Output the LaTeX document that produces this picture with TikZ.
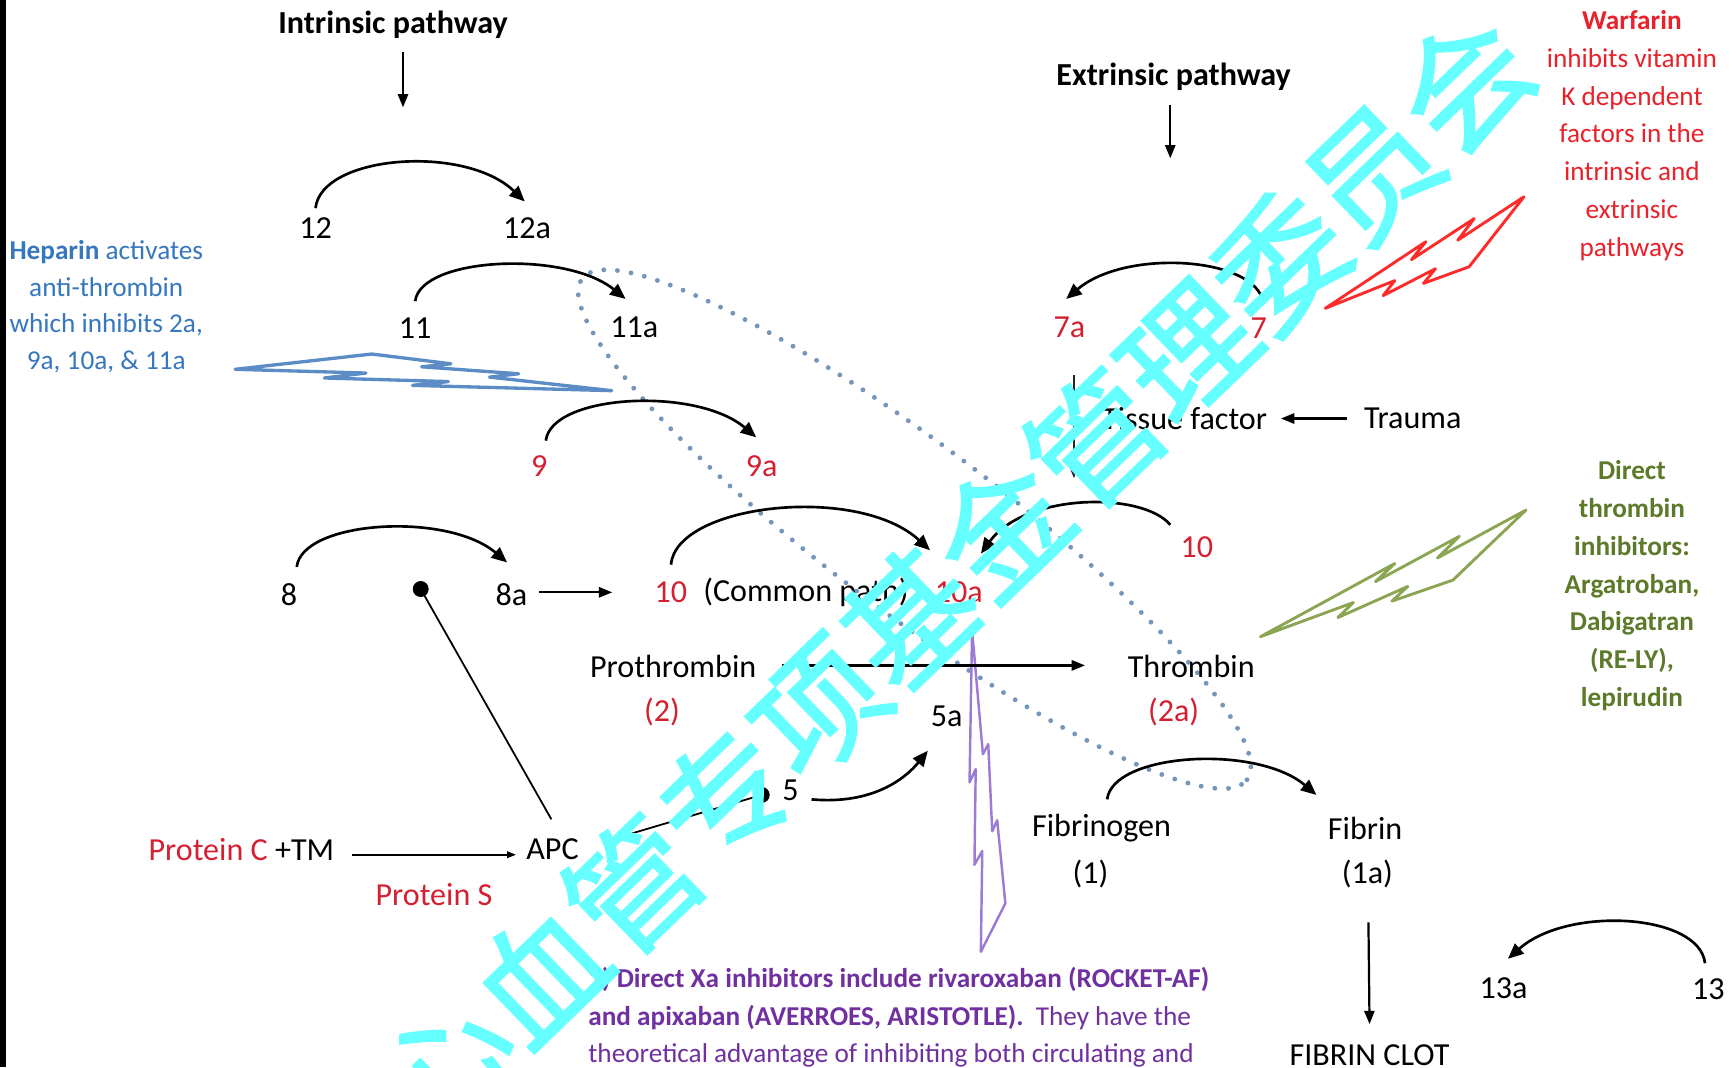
\documentclass[tikz,border=0pt]{standalone}
\usepackage{fontspec}
\setmainfont{Carlito}
\newfontfamily\cjkfont[FakeBold=1.6]{Noto Sans CJK SC}
\usetikzlibrary{arrows.meta}
\definecolor{numred}{HTML}{D42030}
\definecolor{warred}{HTML}{E8212B}
\definecolor{hepblue}{HTML}{3677BD}
\definecolor{thrgreen}{HTML}{5C7A2A}
\definecolor{xapurple}{HTML}{7030A0}
\definecolor{dotcol}{HTML}{7396BA}
\definecolor{boltblue}{HTML}{5B8CC6}
\definecolor{boltred}{HTML}{FF2B2B}
\definecolor{boltgreen}{HTML}{8BA552}
\definecolor{boltpurple}{HTML}{9B7BD6}
\definecolor{wmcyan}{HTML}{66FFFF}
\newcommand{\bolt}[4]{%
  \begin{scope}[shift={#2}, x={#3}, y={#4}]
    \draw[#1] (0.3922,0) -- (0.5954,0.2815) -- (0.5116,0.3147) -- (0.7675,0.5559)
      -- (0.6837,0.5962) -- (1,1) -- (0.4635,0.6905) -- (0.5658,0.6476)
      -- (0.2325,0.4493) -- (0.3519,0.3881) -- (0,0.1801) -- cycle;
  \end{scope}}
\begin{document}
\begin{tikzpicture}[x=0.5pt,y=-0.5pt,
  txt/.style={inner sep=1pt, font=\fontsize{14.5pt}{17.1pt}\selectfont, align=center},
  rtxt/.style={txt, text=numred},
  side/.style={inner sep=1pt, font=\fontsize{12.3pt}{17.1pt}\selectfont, align=center},
  arcarrow/.style={line width=1.2pt, -{Triangle[length=7pt,width=6pt]}},
  arr/.style={line width=1pt, -{Triangle[length=6pt,width=4.6pt]}},
  thinarr/.style={line width=0.7pt, -{Triangle[length=4pt,width=3pt]}},
  thinline/.style={line width=0.8pt},
  dotline/.style={draw=dotcol, line width=2.2pt, line cap=round, dash pattern=on 0pt off 6.2pt},
  boltstyle/.style={line width=#1, line join=round}]
\useasboundingbox (0,0) rectangle (1568,964);
\fill[white] (0,0) rectangle (1568,964);
\fill[black] (0,0) rectangle (5,964);

% dotted ellipse
\draw[dotline, rotate around={-37:(826,478)}] (826,478) ellipse [x radius=188pt, y radius=38pt];

% bolts
\bolt{boltstyle=1.5pt, draw=boltblue}{(208.75,325.9)}{(162.05pt,7.82pt)}{(9.875pt,-21.3pt)}
\bolt{boltstyle=1.3pt, draw=boltred}{(1384.0,186.2)}{(-72.7pt,-69.75pt)}{(-20.8pt,23.6pt)}
\bolt{boltstyle=1.3pt, draw=boltgreen}{(1388.4,467.3)}{(-96.95pt,-72.2pt)}{(-28.05pt,18.3pt)}
\bolt{boltstyle=1.1pt, draw=boltpurple}{(895,884.9)}{(16.65pt,87.9pt)}{(-25.15pt,70.05pt)}

% headings
\node[txt] (ip) at (355,22) {\bfseries Intrinsic pathway};
\node[txt] (ep) at (1060,69) {\bfseries Extrinsic pathway};

% factors
\node[txt] (f12) at (285,206) {12};
\node[txt] (f12a) at (476,206) {12a};
\node[txt] (f11) at (375,296) {11};
\node[txt] (f11a) at (573,296) {11a};
\node[rtxt] (f9) at (487,421) {9};
\node[rtxt] (f9a) at (688,421) {9a};
\node[txt] (f8) at (261,537) {8};
\node[txt] (f8a) at (462,537) {8a};
\node[rtxt] (f10) at (606,535) {10};
\node[txt] (cp) at (728,535) {(Common path)};
\node[rtxt] (f10a) at (866,535) {10a};
\node[txt] (pro) at (608,602) {Prothrombin};
\node[rtxt] (pro2) at (598,643) {(2)};
\node[txt] (thr) at (1076,602) {Thrombin};
\node[rtxt] (thr2) at (1060,643) {(2a)};
\node[txt] (f5a) at (855,647) {5a};
\node[txt] (f5) at (714,714) {5};
\node[txt] (pc) at (218,767) {\textcolor{numred}{Protein C} +TM};
\node[txt] (apc) at (499,767) {APC};
\node[rtxt] (ps) at (392,808) {Protein S};
\node[txt] (fbg) at (995,748) {Fibrinogen};
\node[txt] (fbg1) at (985,789) {(1)};
\node[txt] (fbn) at (1233,748) {Fibrin};
\node[txt] (fbn1) at (1235,789) {(1a)};
\node[txt] (clot) at (1237,953) {FIBRIN CLOT};
\node[txt] (f13a) at (1358,893) {13a};
\node[txt] (f13) at (1543,893) {13};
\node[rtxt] (f7a) at (966,296) {7a};
\node[rtxt] (f7) at (1137,296) {7};
\node[txt] (tf) at (1070,378) {Tissue factor};
\node[txt] (tr) at (1276,378) {Trauma};
\node[rtxt] (f10e) at (1081,494) {10};

% side texts
\node[side, text=hepblue, font=\fontsize{12.3pt}{16.7pt}\selectfont] (hep) at (96,277) {\textbf{Heparin} activates\\anti-thrombin\\which inhibits 2a,\\9a, 10a, \& 11a};
\node[side, text=warred] (war) at (1474,122.5) {\textbf{Warfarin}\\inhibits vitamin\\K dependent\\factors in the\\intrinsic and\\extrinsic\\pathways};
\node[side, text=thrgreen, font=\fontsize{12.3pt}{17.1pt}\selectfont\bfseries] (dti) at (1474,529) {Direct\\thrombin\\inhibitors:\\Argatroban,\\Dabigatran\\(RE-LY),\\lepirudin};
\node[side, text=xapurple, anchor=west, align=left, font=\fontsize{12.3pt}{17pt}\selectfont] (xa) at (529,919) {\textbf{1) Direct Xa inhibitors include rivaroxaban (ROCKET-AF)}\\\textbf{and apixaban (AVERROES, ARISTOTLE).}~ They have the\\theoretical advantage of inhibiting both circulating and};

% coordinates for free ends
\coordinate (ipend) at (364,97);
\coordinate (epend) at (1057,143);
\coordinate (tfa) at (970,432);
\coordinate (dot1) at (380,532);
\coordinate (dot2) at (688,718);

% straight arrows
\draw[arr] ([xshift=4.5pt,yshift=-12.5pt]ip.center) -- (ipend);
\draw[arr] ([xshift=-1.5pt,yshift=-13pt]ep.center) -- (epend);
\draw[arr] ([xshift=12.5pt,yshift=1pt]f8a.center) -- ([xshift=-26.5pt]f10.center);
\draw[arr] ([xshift=49pt,yshift=0.5pt]pro.center) -- ([xshift=-48pt,yshift=0.5pt]thr.center);
\draw[arr] ([xshift=-29.5pt]tr.center) -- ([xshift=43.5pt]tf.center);
\draw[arr] ([xshift=0.5pt,yshift=-22pt]fbn1.center) -- ([yshift=14pt]clot.center);
\draw[thinarr] ([xshift=50pt,yshift=-2.5pt]pc.center) -- ([xshift=-16.5pt,yshift=-2.5pt]apc.center);
\draw[thinarr, draw=black!85, fill=black!85] ([xshift=2pt,yshift=-21.5pt]f7a.center) -- (tfa);

% inhibition lines with dots
\fill (dot1) circle[radius=3.6pt];
\fill (dot2) circle[radius=3.6pt];
\draw[thinline] (dot1) -- ([xshift=-0.5pt,yshift=13.5pt]apc.center);
\draw[thinline] ([xshift=27pt,yshift=4.5pt]apc.center) -- (dot2);

% curved activation arrows
\draw[arcarrow] ([yshift=9pt]f12.center) .. controls +(5,-48) and +(-54,-52) .. ([xshift=-1pt,yshift=12pt]f12a.center);
\draw[arcarrow] ([yshift=12pt]f11.center) .. controls +(5,-40) and +(-54,-44) .. ([xshift=-4pt,yshift=13pt]f11a.center);
\draw[arcarrow] ([xshift=3pt,yshift=11.5pt]f9.center) .. controls +(5,-42) and +(-54,-46) .. ([xshift=-2.5pt,yshift=13pt]f9a.center);
\draw[arcarrow] ([xshift=3.5pt,yshift=12.5pt]f8.center) .. controls +(5,-42) and +(-54,-46) .. ([xshift=-2pt,yshift=14.5pt]f8a.center);
\draw[arcarrow] ([yshift=12.5pt]f10.center) .. controls +(5,-55) and +(-65,-60) .. ([xshift=-13pt,yshift=19pt]f10a.center);
\draw[arcarrow] ([xshift=2pt,yshift=11pt]f7.center) .. controls +(-5,-42) and +(54,-46) .. ([xshift=-1.5pt,yshift=13pt]f7a.center);
\draw[arcarrow] ([xshift=-12pt,yshift=10pt]f10e.center) .. controls +(-25,-30) and +(40,-55) .. ([xshift=10pt,yshift=17.5pt]f10a.center);
\draw[arcarrow] ([xshift=2.5pt,yshift=13pt]fbg.center) .. controls +(5,-42) and +(-54,-46) .. ([xshift=-22pt,yshift=15pt]fbn.center);
\draw[arcarrow] ([xshift=-1.5pt,yshift=11.5pt]f13.center) .. controls +(-5,-45) and +(54,-48) .. ([xshift=2pt,yshift=13.5pt]f13a.center);
\draw[arcarrow] ([xshift=9.5pt,yshift=-4pt]f5.center) .. controls +(55,5) and +(-20,25) .. ([xshift=-8.5pt,yshift=-15.5pt]f5a.center);

% watermark
\node[rotate=44, text=wmcyan, font=\cjkfont\fontsize{58pt}{58pt}\selectfont, inner sep=0pt] (wm) at (863.5,518) {心血管专项基金管理委员会};
\end{tikzpicture}
\end{document}
